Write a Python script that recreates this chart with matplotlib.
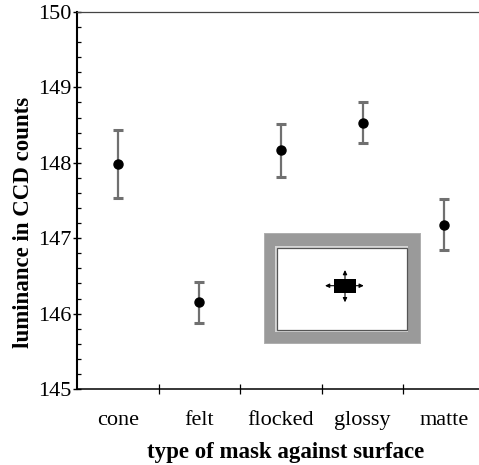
import matplotlib as mpl
import matplotlib.pyplot as plt
from matplotlib.patches import Rectangle

mpl.rcParams["font.family"] = "serif"
mpl.rcParams["font.serif"] = ["Liberation Serif", "DejaVu Serif"]

masks = ["cone", "felt", "flocked", "glossy", "matte"]
luminance = [147.98, 146.15, 148.17, 148.53, 147.18]
err_low = [0.45, 0.27, 0.36, 0.27, 0.33]
err_high = [0.46, 0.27, 0.35, 0.28, 0.34]

W, H = 479, 465
fig = plt.figure(figsize=(W / 100, H / 100), dpi=100)
ax = fig.add_axes([77 / W, 1 - 389 / H, 408 / W, 377 / H])

pos = [i + 0.5 for i in range(len(masks))]
line, caps, bars = ax.errorbar(
    pos, luminance, yerr=[err_low, err_high], fmt="o", color="black", ms=6.5,
    ecolor="#707070", elinewidth=1.6, capsize=3.5, capthick=2.2,
)
for c in caps:
    c.set_color("black")

ax.set_xlim(0, len(masks))
ax.set_ylim(145, 150)

ax.set_xticks(range(1, len(masks)))
ax.set_xticklabels([])
ax.set_xticks(pos, minor=True)
ax.set_xticklabels(masks, minor=True, fontsize=16)
ax.tick_params(axis="x", which="major", direction="inout", length=7, width=0.9)
ax.tick_params(axis="x", which="minor", length=0, pad=16)

ax.set_yticks(range(145, 151))
ax.set_yticklabels([str(v) for v in range(145, 151)], fontsize=16)
ax.set_yticks([145 + 0.2 * i for i in range(26) if i % 5], minor=True)
ax.tick_params(axis="y", which="major", direction="inout", length=6, width=1, pad=1)
ax.tick_params(axis="y", which="minor", direction="in", length=3, width=0.9)

ax.spines["right"].set_visible(False)
ax.spines["left"].set_linewidth(1.5)
ax.spines["bottom"].set_linewidth(1.1)
ax.spines["top"].set_linewidth(0.9)
ax.spines["top"].set_color("#444444")

ax.set_xlabel("type of mask against surface", fontsize=16.5, fontweight="bold")
ax.xaxis.set_label_coords(0.512, -0.14)
ax.set_ylabel("luminance in CCD counts", fontsize=16.5, fontweight="bold")
ax.yaxis.set_label_coords(-0.105, 0.443)

# inset sketch of the mask setup, drawn in pixel units
ins = fig.add_axes([264.3 / W, 1 - 344.3 / H, 156.4 / W, 111 / H])
ins.set_xlim(0, 156.4)
ins.set_ylim(111, 0)
ins.axis("off")
ins.add_patch(Rectangle((0, 0), 156.4, 111, fc="#9a9a9a", ec="#b4b4b4", lw=1.2))
ins.add_patch(Rectangle((11, 12.7), 133, 85.7, fc="#d6d6d6", ec="none"))
ins.add_patch(Rectangle((12.5, 14.2), 130, 82.7, fc="white", ec="#555555", lw=0.9))
bx, by, bw, bh = 80.7, 52.4, 21.7, 13.7
ins.add_patch(Rectangle((bx - bw / 2, by - bh / 2), bw, bh, fc="black", ec="none"))
arrow = dict(arrowstyle="-|>,head_length=0.25,head_width=0.12", color="black", lw=0.8,
             shrinkA=0, shrinkB=0)
for (x0, y0), (x1, y1) in [
    ((bx - bw / 2, by), (60.7, by)),
    ((bx + bw / 2, by), (99.5, by)),
    ((bx, by - bh / 2), (bx, 36.7)),
    ((bx, by + bh / 2), (bx, 69)),
]:
    ins.annotate("", xy=(x1, y1), xytext=(x0, y0), arrowprops=arrow)

fig.savefig("out.png", dpi=100)
